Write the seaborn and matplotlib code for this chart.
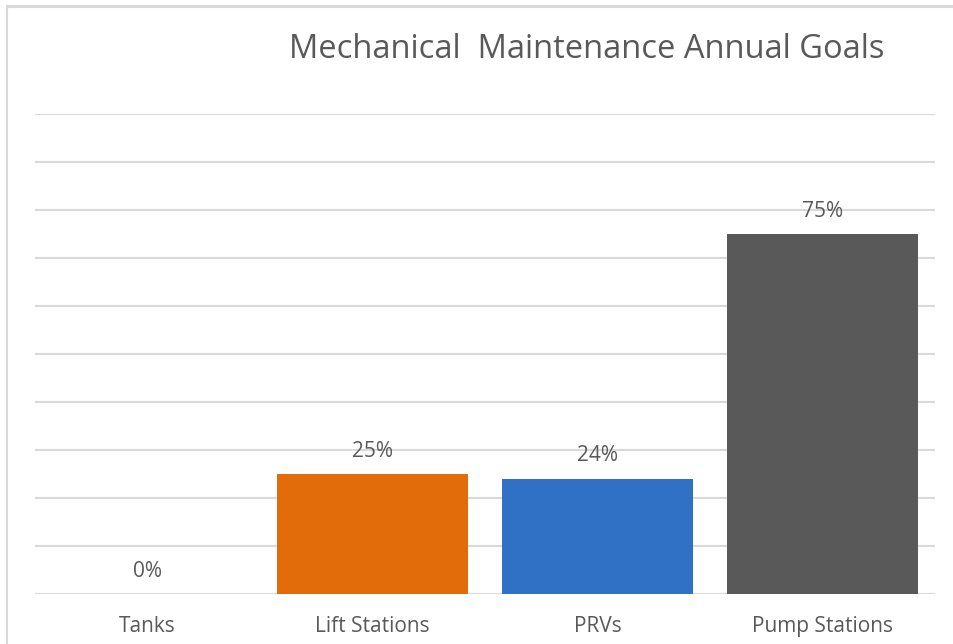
import matplotlib
matplotlib.use('Agg')
import matplotlib.pyplot as plt
import seaborn as sns
import pandas as pd
from matplotlib.lines import Line2D

categories = ['Tanks', 'Lift Stations', 'PRVs', 'Pump Stations']
values = [0.00, 0.25, 0.24, 0.75]
labels = ['0%', '25%', '24%', '75%']
colors = ['#E36C0A', '#E36C0A', '#3070C5', '#595959']

sns.set_style('white')
plt.rcParams['font.family'] = ['Open Sans', 'DejaVu Sans']
text_color = '#595959'
grid_color = '#D9D9D9'

df = pd.DataFrame({'category': categories, 'value': values})

W, H = 954, 644
fig = plt.figure(figsize=(W / 100, H / 100), dpi=100)
ax = fig.add_axes([35 / W, (H - 594) / H, 900 / W, 480 / H])

sns.barplot(data=df, x='category', y='value', hue='category', palette=colors,
            width=0.85, legend=False, saturation=1, linewidth=0, ax=ax)

ax.set_ylim(0, 1.0)
ax.set_yticks([i / 10 for i in range(11)])
ax.yaxis.grid(True, color=grid_color, linewidth=1.5)
ax.set_axisbelow(True)
ax.set_yticklabels([])
ax.tick_params(axis='y', length=0)
ax.tick_params(axis='x', length=0, pad=16, labelsize=15, labelcolor=text_color)
ax.set_xlabel('')
ax.set_ylabel('')
for s in ax.spines.values():
    s.set_visible(False)

for i, (v, lab) in enumerate(zip(values, labels)):
    ax.annotate(lab, (i, v), xytext=(0, 16.5), textcoords='offset points',
                ha='center', va='center', fontsize=15, color=text_color)

fig.text(587 / W, 1 - 50 / H, 'Mechanical  Maintenance Annual Goals',
         ha='center', va='center', fontsize=23.5, color=text_color)

# outer frame lines
fig.add_artist(Line2D([7 / W, 1], [1 - 5.5 / H, 1 - 5.5 / H], color=grid_color,
                      linewidth=2.2, transform=fig.transFigure))
fig.add_artist(Line2D([7 / W, 7 / W], [0, 1 - 5.5 / H], color=grid_color,
                      linewidth=1.5, transform=fig.transFigure))

fig.savefig('out.png', dpi=100)
